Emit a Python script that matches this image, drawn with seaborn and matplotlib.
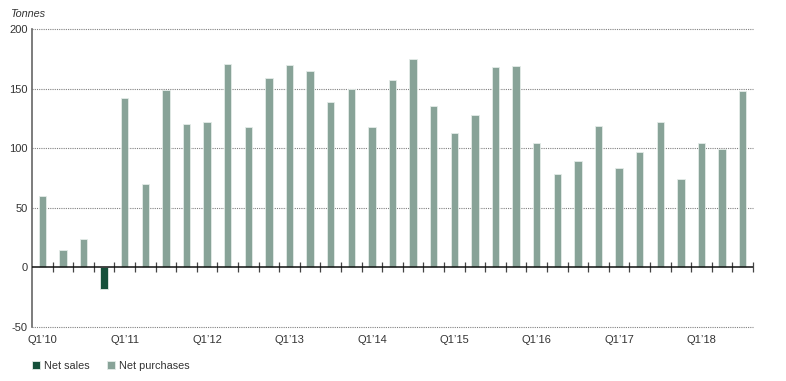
import pandas as pd
import matplotlib
matplotlib.use("Agg")
import matplotlib.pyplot as plt
import seaborn as sns

# quarterly net central bank gold flows (tonnes)
years = ["10", "11", "12", "13", "14", "15", "16", "17", "18"]
quarters = [f"Q{q}\u2019{y}" for y in years for q in (1, 2, 3, 4)][:35]
values = [60, 15, 24, -18,
          142, 70, 149, 120,
          122, 171, 118, 159,
          170, 165, 139, 150,
          118, 157, 175, 135,
          113, 128, 168, 169,
          104, 78, 89, 119,
          83, 97, 122, 74,
          104, 99, 148]
label_quarters = quarters[::4]
y_ticks = [-50, 0, 50, 100, 150, 200]

df = pd.DataFrame({"quarter": quarters, "value": values})
df["type"] = ["Net sales" if v < 0 else "Net purchases" for v in values]

palette = {"Net sales": "#0b5a3c", "Net purchases": "#84a799"}

sns.set_style("white")
plt.rcParams["font.family"] = ["Liberation Sans", "DejaVu Sans"]

fig = plt.figure(figsize=(7.86, 3.81), dpi=100)
ax = fig.add_axes([32 / 786, 1 - 327 / 381, (753 - 32) / 786, (327 - 29) / 381])

sns.barplot(data=df, x="quarter", y="value", hue="type", order=quarters,
            hue_order=["Net sales", "Net purchases"], palette=palette,
            dodge=False, width=0.36, edgecolor="#e4ece8", linewidth=0.6,
            legend=True, ax=ax, zorder=3)

n = len(quarters)
ax.set_xlim(-0.5, n - 0.5)
ax.set_ylim(-50, 200)
ax.set_yticks(y_ticks)
ax.set_yticklabels([str(t) for t in y_ticks])
ax.set_xticks([quarters.index(q) for q in label_quarters])
ax.set_xticklabels(label_quarters)
ax.set_xlabel("")
ax.set_ylabel("")
ax.tick_params(axis="both", length=0, labelsize=8, colors="#333333")
ax.tick_params(axis="x", pad=6)
ax.tick_params(axis="y", pad=3)

ax.grid(False)
for t in y_ticks:
    if t != 0:
        ax.axhline(t, linestyle=(0, (1, 1)), color="#808080", linewidth=0.8,
                   zorder=1, clip_on=False)
ax.axhline(0, color="#111111", linewidth=1.1, zorder=4)
for side in ["top", "right", "bottom"]:
    ax.spines[side].set_visible(False)
ax.spines["left"].set_color("#666666")
ax.spines["left"].set_linewidth(1.2)

# quarter boundary ticks on the zero line
zero_pos = (0 - (-50)) / (200 - (-50))
sec = ax.secondary_xaxis(zero_pos)
sec.set_xticks([i + 0.5 for i in range(n)])
sec.set_xticklabels([])
sec.tick_params(direction="inout", length=6.5, width=0.9, color="#444444")
sec.spines["bottom"].set_visible(False)

leg = ax.get_legend()
handles = leg.legend_handles
labels = [t.get_text() for t in leg.get_texts()]
leg.remove()
fig.legend(handles, labels, loc="center left", bbox_to_anchor=(22 / 786, 1 - 366 / 381),
           ncol=2, frameon=False, fontsize=7.8, handlelength=0.8, handleheight=0.8,
           handletextpad=0.3, columnspacing=1.6, labelcolor="#333333")

fig.text(10 / 786, 1 - 14 / 381, "Tonnes", fontsize=7.8, style="italic",
         color="#333333", va="center", ha="left")

fig.savefig("out.png", dpi=100)
